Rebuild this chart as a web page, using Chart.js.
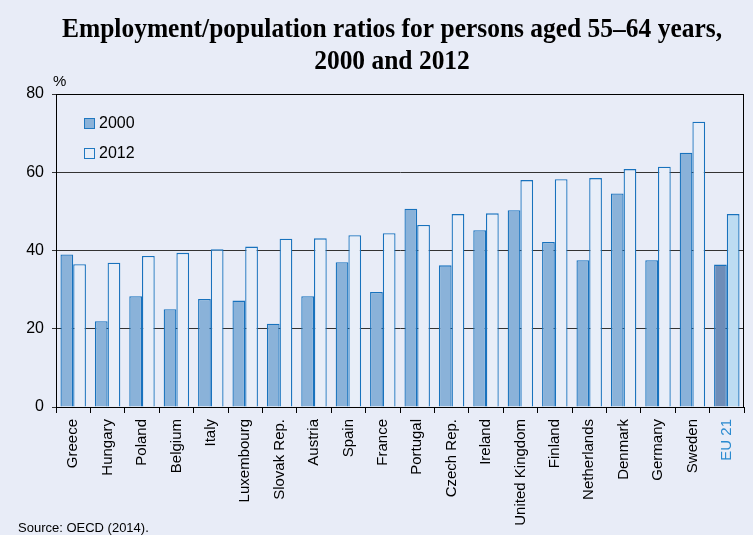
<!DOCTYPE html>
<html>
<head>
<meta charset="utf-8">
<script src="https://cdn.jsdelivr.net/npm/chart.js@4/dist/chart.umd.min.js"></script>
<style>
    html, body { margin: 0; padding: 0; background: #e8ecf7; }
    #wrap { position: relative; width: 753px; height: 535px; }
    #source {
        position: absolute; left: 18px; top: 520px;
        font: 13px "Liberation Sans", Arial, sans-serif; color: #000;
    }
</style>
</head>
<body>
<div id="wrap">
    <canvas id="chart" width="753" height="535"></canvas>
    <div id="source">Source: OECD (2014).</div>
</div>
<script>
const countries = ['Greece', 'Hungary', 'Poland', 'Belgium', 'Italy', 'Luxembourg', 'Slovak Rep.',
    'Austria', 'Spain', 'France', 'Portugal', 'Czech Rep.', 'Ireland', 'United Kingdom',
    'Finland', 'Netherlands', 'Denmark', 'Germany', 'Sweden', 'EU 21'];
const values2000 = [39.0, 21.9, 28.3, 25.0, 27.6, 27.2, 21.3, 28.3, 37.0, 29.4,
    50.7, 36.2, 45.2, 50.3, 42.2, 37.5, 54.6, 37.5, 65.0, 36.4];
const values2012 = [36.5, 36.9, 38.6, 39.4, 40.3, 41.0, 43.0, 43.1, 43.9, 44.4,
    46.5, 49.3, 49.5, 58.0, 58.2, 58.5, 60.8, 61.4, 72.9, 49.3];
const yTicks = [0, 20, 40, 60, 80];
const titleLines = ['Employment/population ratios for persons aged 55\u201364 years,', '2000 and 2012'];

const EU = countries.length - 1;

// title (narrow bold serif), legend and top/right frame drawn by hand
const extras = {
    id: 'extras',
    afterDraw(chart) {
        const ctx = chart.ctx;
        const a = chart.chartArea;
        ctx.save();

        ctx.font = 'bold 27px "Liberation Serif", "Times New Roman", serif';
        ctx.fillStyle = '#000';
        ctx.textBaseline = 'alphabetic';
        ctx.textAlign = 'center';
        const sx = 660 / ctx.measureText(titleLines[0]).width;
        titleLines.forEach((t, i) => {
            ctx.save();
            ctx.translate(392, 37 + i * 32);
            ctx.scale(sx, 1);
            ctx.fillText(t, 0, 0);
            ctx.restore();
        });

        ctx.strokeStyle = '#000';
        ctx.lineWidth = 1;
        ctx.strokeRect(Math.round(a.left) + 0.5, Math.round(a.top) + 0.5,
            Math.round(a.right - a.left) - 1, Math.round(a.bottom - a.top));

        ctx.font = '15px "Liberation Sans", Arial, sans-serif';
        ctx.textAlign = 'left';
        ctx.textBaseline = 'bottom';
        ctx.fillText('%', a.left - 3, a.top - 5);

        const items = [['2000', '#8ab2d9'], ['2012', '#e8eef8']];
        ctx.font = '16px "Liberation Sans", Arial, sans-serif';
        ctx.textBaseline = 'middle';
        items.forEach((it, i) => {
            const y = a.top + 30 + i * 30;
            ctx.fillStyle = it[1];
            ctx.fillRect(a.left + 28.5, y - 5.5, 10, 10);
            ctx.strokeStyle = '#1f78c1';
            ctx.strokeRect(a.left + 28.5, y - 5.5, 10, 10);
            ctx.fillStyle = '#000';
            ctx.fillText(it[0], a.left + 43, y);
        });
        ctx.restore();
    }
};

new Chart(document.getElementById('chart'), {
    type: 'bar',
    data: {
        labels: countries,
        datasets: [{
            label: '2000',
            data: values2000,
            backgroundColor: c => c.dataIndex === EU ? '#6e8db8' : '#8ab2d9',
            borderColor: '#1872bd',
            borderWidth: 1.3,
            categoryPercentage: 0.74,
            barPercentage: 1
        }, {
            label: '2012',
            data: values2012,
            backgroundColor: c => c.dataIndex === EU ? '#bddcf2' : '#e8eef8',
            borderColor: '#1872bd',
            borderWidth: 1.3,
            categoryPercentage: 0.74,
            barPercentage: 1
        }]
    },
    options: {
        responsive: false,
        animation: false,
        layout: { padding: { left: 0, right: 9, top: 94, bottom: 0 } },
        plugins: {
            legend: { display: false },
            tooltip: { enabled: false },
            title: { display: false }
        },
        scales: {
            x: {
                grid: { drawOnChartArea: false, color: '#000', tickLength: 6, offset: true },
                border: { color: '#000' },
                ticks: {
                    autoSkip: false,
                    minRotation: 90,
                    maxRotation: 90,
                    padding: 6,
                    color: c => c.index === EU ? '#2a8ad0' : '#000',
                    font: { family: '"Liberation Sans", Arial, sans-serif', size: 15 }
                },
                afterFit(axis) { axis.height = 128; }
            },
            y: {
                min: 0,
                max: 80,
                afterBuildTicks(axis) { axis.ticks = yTicks.map(v => ({ value: v })); },
                grid: { color: '#333', tickLength: 4 },
                border: { color: '#000' },
                ticks: {
                    padding: 8,
                    color: '#000',
                    font: { family: '"Liberation Sans", Arial, sans-serif', size: 16 }
                },
                afterFit(axis) { axis.width = 56; }
            }
        }
    },
    plugins: [extras]
});
</script>
</body>
</html>
